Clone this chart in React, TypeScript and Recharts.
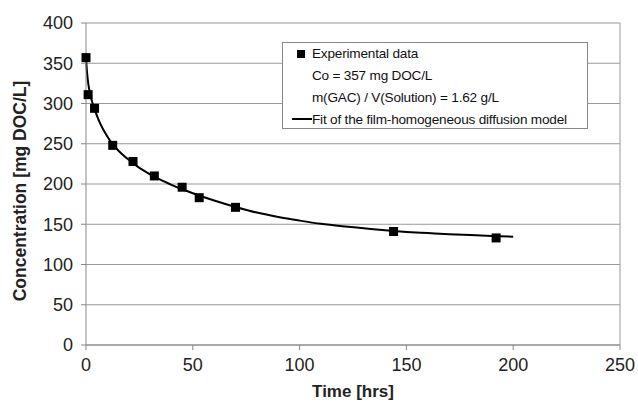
import { ComposedChart, Line, Scatter, XAxis, YAxis, CartesianGrid, Legend, ReferenceLine } from "recharts"

// measured concentrations
const expTime = [0, 1, 4, 12.5, 22, 32, 45, 53, 70, 144, 192]
const expConc = [357, 311, 294, 248, 228, 210, 196, 183, 171, 141, 133]

// fitted model curve
const fitTime = [0, 0.5, 1, 2, 4, 6, 8, 10, 12, 15, 20, 25, 30, 35, 40, 45, 50, 60, 70, 80, 90, 100, 110, 120, 130, 140, 150, 160, 170, 180, 190, 200]
const fitConc = [357, 338, 326, 311, 293, 279, 268, 259, 251, 242, 230, 220, 212, 205, 199, 193.5, 188.5, 179.5, 171.5, 164.5, 159, 154.5, 150.5, 147.5, 145, 142.5, 140.5, 139, 137.5, 136.5, 135.5, 134.5]

const xTicks = [0, 50, 100, 150, 200, 250]
const yTicks = [0, 50, 100, 150, 200, 250, 300, 350, 400]

const expData = expTime.map((t, i) => ({ t, c: expConc[i] }))
const fitData = fitTime.map((t, i) => ({ t, c: fitConc[i] }))

const FONT = "'Liberation Sans', Arial, sans-serif"

function LegendBox() {
  const row = { height: 21.8, display: "flex", alignItems: "center", whiteSpace: "nowrap" } as const
  return (
    <div
      style={{
        width: 306,
        height: 87,
        border: "1px solid #888",
        background: "#fff",
        fontFamily: FONT,
        fontSize: 13.6,
        letterSpacing: -0.2,
        color: "#111",
        boxSizing: "border-box",
      }}
    >
      <div style={row}>
        <span style={{ width: 29, display: "inline-flex" }}>
          <span style={{ width: 8, height: 8, background: "#000", display: "inline-block", marginLeft: 14 }} />
        </span>
        <span>Experimental data</span>
      </div>
      <div style={row}>
        <span style={{ width: 29 }} />
        <span>Co = 357 mg DOC/L</span>
      </div>
      <div style={row}>
        <span style={{ width: 29 }} />
        <span>m(GAC) / V(Solution) = 1.62 g/L</span>
      </div>
      <div style={row}>
        <span style={{ width: 29, display: "inline-flex", alignItems: "center" }}>
          <span style={{ width: 20, height: 2, background: "#000", display: "inline-block", marginLeft: 9 }} />
        </span>
        <span>Fit of the film-homogeneous diffusion model</span>
      </div>
    </div>
  )
}

export default function App() {
  return (
    <div style={{ position: "absolute", left: 0, top: 0, width: 638, height: 402, background: "#fff" }}>
      <ComposedChart width={638} height={402} margin={{ top: 23, right: 18, left: 0, bottom: 0 }}>
        <CartesianGrid horizontal vertical={false} stroke="#999" strokeWidth={1} />
        <XAxis
          type="number"
          dataKey="t"
          domain={[0, 250]}
          ticks={xTicks}
          height={57}
          stroke="#888"
          tickSize={5}
          tick={{ fill: "#222", fontSize: 18, fontFamily: FONT }}
          tickMargin={8}
          label={{ value: "Time [hrs]", position: "insideBottom", offset: 5, fill: "#222", fontSize: 17, fontWeight: "bold", fontFamily: FONT }}
        />
        <YAxis
          type="number"
          dataKey="c"
          domain={[0, 400]}
          ticks={yTicks}
          width={86}
          stroke="#888"
          tickSize={5}
          tickMargin={8}
          tick={{ fill: "#222", fontSize: 18, fontFamily: FONT }}
          label={{ value: "Concentration [mg DOC/L]", angle: -90, position: "center", dx: -23, dy: 7, fill: "#222", fontSize: 17.5, fontWeight: "bold", fontFamily: FONT }}
        />
        <ReferenceLine x={250} stroke="#999" />
        <Line
          data={fitData}
          dataKey="c"
          type="monotone"
          stroke="#000"
          strokeWidth={2}
          dot={false}
          activeDot={false}
          isAnimationActive={false}
        />
        <Scatter
          data={expData}
          dataKey="c"
          fill="#000"
          isAnimationActive={false}
          shape={(p: any) => <rect x={p.cx - 4.5} y={p.cy - 4.5} width={9} height={9} fill="#000" />}
        />
        <Legend
          layout="vertical"
          align="center"
          verticalAlign="middle"
          content={() => <LegendBox />}
          wrapperStyle={{ position: "absolute", left: 282, top: 42, width: 306, height: 87 }}
        />
      </ComposedChart>
    </div>
  )
}
